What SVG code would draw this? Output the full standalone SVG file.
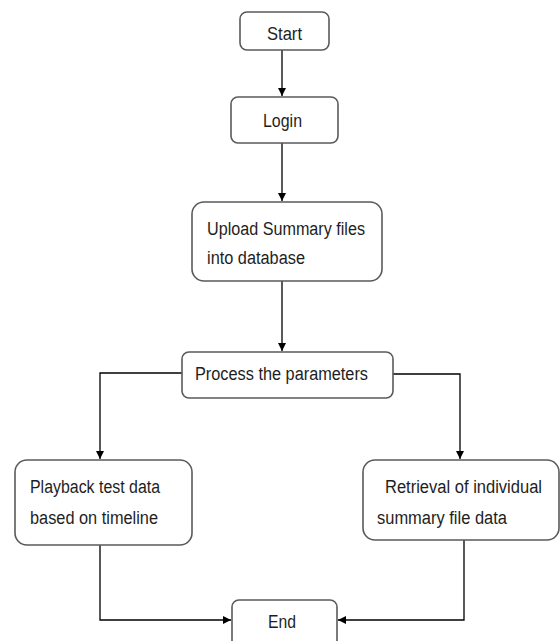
<svg xmlns="http://www.w3.org/2000/svg" width="560" height="641" viewBox="0 0 560 641">
<style>
.box{fill:#fff;stroke:#5a5a5a;stroke-width:1.6}
.t{font-family:"Liberation Sans",Arial,sans-serif;font-size:18px;fill:#1e1e1e}
.c{fill:none;stroke:#000;stroke-width:1.3}
</style>
<defs>
<marker id="ah" viewBox="0 0 10 10" refX="10" refY="5" markerWidth="8" markerHeight="8" markerUnits="userSpaceOnUse" orient="auto">
<path d="M0,0 L10,5 L0,10 z" fill="#000"/>
</marker>
</defs>
<rect width="560" height="641" fill="#fff"/>
<g id="connectors">
<path class="c" d="M282,50 V96" marker-end="url(#ah)"/>
<path class="c" d="M282,143 V201" marker-end="url(#ah)"/>
<path class="c" d="M282,281 V351" marker-end="url(#ah)"/>
<path class="c" d="M182,373 H100 V459" marker-end="url(#ah)"/>
<path class="c" d="M393,374 H460 V459" marker-end="url(#ah)"/>
<path class="c" d="M100,545 V620 H231" marker-end="url(#ah)"/>
<path class="c" d="M464,540 V620 H338" marker-end="url(#ah)"/>
</g>
<g id="start">
<rect class="box" x="240" y="12" width="89" height="38" rx="7"/>
<text class="t" x="267" y="40" textLength="35" lengthAdjust="spacingAndGlyphs">Start</text>
</g>
<g id="login">
<rect class="box" x="231" y="97" width="107" height="46" rx="7"/>
<text class="t" x="263" y="127" textLength="39" lengthAdjust="spacingAndGlyphs">Login</text>
</g>
<g id="upload">
<rect class="box" x="192" y="202" width="190" height="79" rx="12"/>
<text class="t" x="207" y="235" textLength="158" lengthAdjust="spacingAndGlyphs">Upload Summary files</text>
<text class="t" x="207" y="264" textLength="98" lengthAdjust="spacingAndGlyphs">into database</text>
</g>
<g id="process">
<rect class="box" x="182" y="352" width="211" height="46" rx="7"/>
<text class="t" x="195" y="380" textLength="173" lengthAdjust="spacingAndGlyphs">Process the parameters</text>
</g>
<g id="playback">
<rect class="box" x="15" y="460" width="177" height="85" rx="12"/>
<text class="t" x="30" y="493" textLength="130" lengthAdjust="spacingAndGlyphs">Playback test data</text>
<text class="t" x="30" y="524" textLength="128" lengthAdjust="spacingAndGlyphs">based on timeline</text>
</g>
<g id="retrieval">
<rect class="box" x="363" y="460" width="196" height="80" rx="12"/>
<text class="t" x="385" y="493" textLength="157" lengthAdjust="spacingAndGlyphs">Retrieval of individual</text>
<text class="t" x="377" y="524" textLength="130" lengthAdjust="spacingAndGlyphs">summary file data</text>
</g>
<g id="end">
<rect class="box" x="232" y="600" width="105" height="50" rx="7"/>
<text class="t" x="268" y="628" textLength="28" lengthAdjust="spacingAndGlyphs">End</text>
</g>
</svg>
